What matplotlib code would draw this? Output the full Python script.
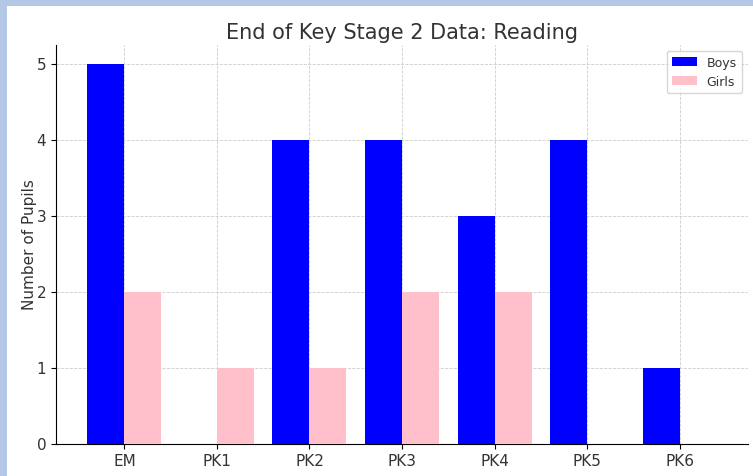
import numpy as np
import matplotlib.pyplot as plt
from matplotlib.patches import Rectangle

categories = ["EM", "PK1", "PK2", "PK3", "PK4", "PK5", "PK6"]
boys = [5, 0, 4, 4, 3, 4, 1]
girls = [2, 1, 1, 2, 2, 0, 0]

plt.rcParams["text.color"] = "#333333"
plt.rcParams["xtick.labelcolor"] = "#333333"
plt.rcParams["ytick.labelcolor"] = "#333333"
plt.rcParams["axes.labelcolor"] = "#333333"

fig = plt.figure(figsize=(7.53, 4.77), dpi=100)
fig.patch.set_facecolor("#b4c7e7")
# white page inside the light blue frame
fig.patches.append(Rectangle((7 / 753, 0), 1, 1 - 7 / 477, transform=fig.transFigure,
                             facecolor="white", edgecolor="none", zorder=-10))

ax = fig.add_axes([56 / 753, 32.5 / 477, 692 / 753, 399 / 477])
ax.set_facecolor("white")

x = np.arange(len(categories))
w = 0.4
ax.bar(x - w / 2, boys, w, color="blue", label="Boys", zorder=3)
ax.bar(x + w / 2, girls, w, color="pink", label="Girls", zorder=3)

ax.set_xticks(x)
ax.set_xticklabels(categories, fontsize=11)
ax.tick_params(axis="y", labelsize=11)
ax.set_ylim(0, 5.25)
ax.set_yticks(range(6))
ax.set_ylabel("Number of Pupils", fontsize=11, labelpad=0)
ax.set_title("End of Key Stage 2 Data: Reading", fontsize=15, pad=5)
ax.grid(True, linestyle="--", linewidth=0.6, color="#cccccc", zorder=0)
ax.spines["top"].set_visible(False)
ax.spines["right"].set_visible(False)
ax.legend(loc="upper right", fontsize=9)

fig.savefig("out.png", dpi=100, facecolor=fig.get_facecolor())
